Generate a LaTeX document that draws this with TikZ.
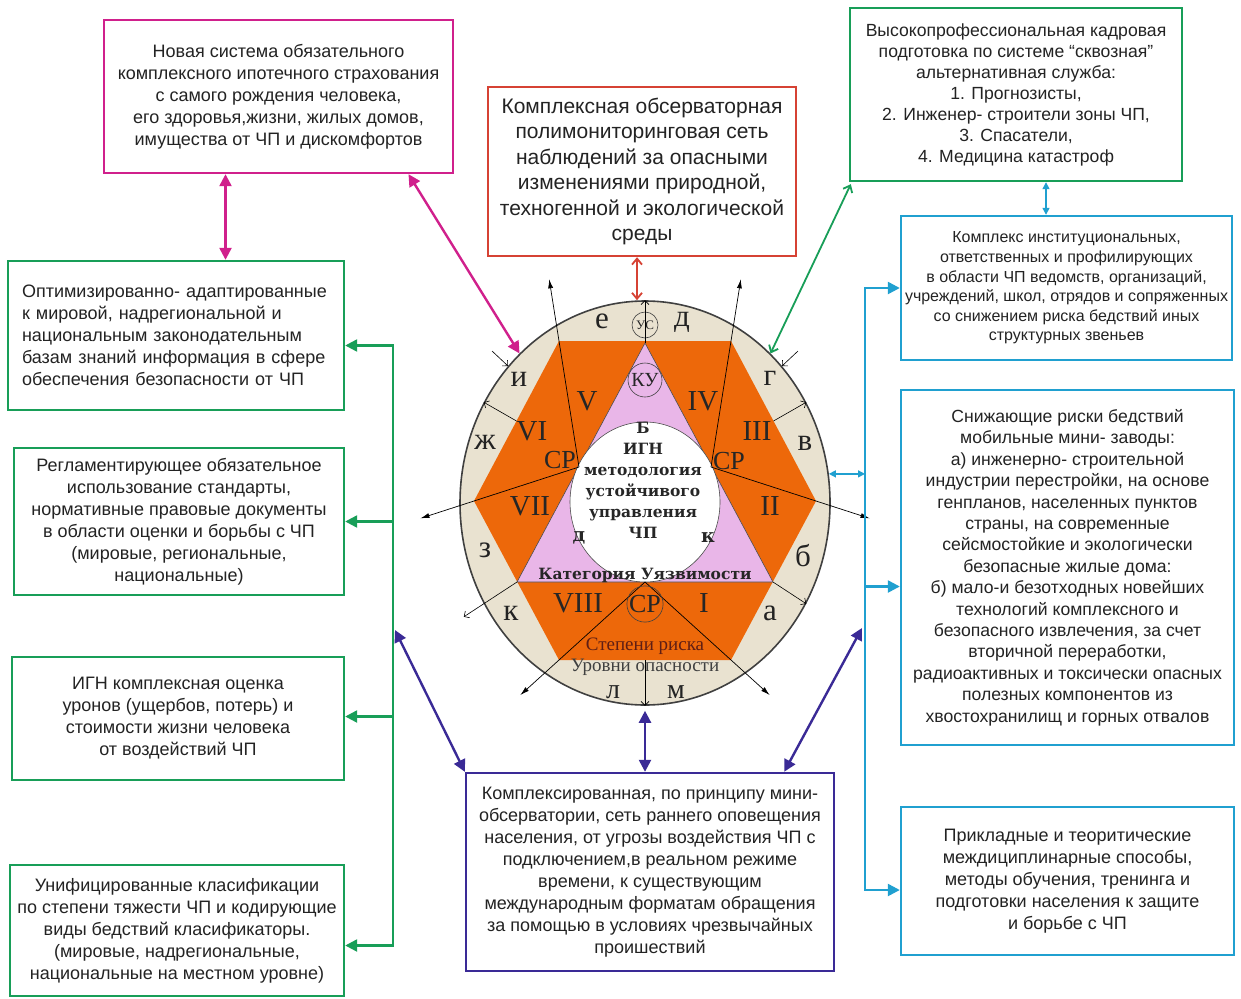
\documentclass[tikz,border=0pt]{standalone}
\usepackage{fontspec}
\setmainfont{Liberation Sans}
\newfontfamily\rmcyr{Liberation Serif}
\newfontfamily\bkcyr{DejaVu Serif}
\usetikzlibrary{arrows.meta,shapes.geometric,calc}
\definecolor{beige}{RGB}{233,226,208}
\definecolor{hexorange}{RGB}{237,104,10}
\definecolor{trpink}{RGB}{233,182,232}
\definecolor{magline}{RGB}{208,32,140}
\definecolor{redline}{RGB}{214,66,52}
\definecolor{grline}{RGB}{24,158,88}
\definecolor{cyline}{RGB}{32,160,208}
\definecolor{puline}{RGB}{58,42,150}
\definecolor{txt}{RGB}{35,35,35}
\definecolor{maroon}{RGB}{95,30,20}

\begin{document}
\begin{tikzpicture}[x=1pt,y=-1pt,
  box/.style={draw, line width=2.4pt, align=center, inner sep=0pt, text=txt, font=\fontsize{18}{22}\selectfont},
  big/.style={-{Triangle[length=12pt,width=12pt]}, line width=2.4pt},
  bigboth/.style={{Triangle[length=12pt,width=12pt]}-{Triangle[length=12pt,width=12pt]}, line width=2.4pt},
  smallboth/.style={{Triangle[length=7pt,width=7pt]}-{Triangle[length=7pt,width=7pt]}, line width=1.4pt},
  barbboth/.style={{Straight Barb[length=6pt,width=10pt]}-{Straight Barb[length=6pt,width=10pt]}, line width=1.8pt},
  ray/.style={-{Latex[length=9pt,width=5pt]}, line width=0.7pt},
  tick/.style={-{Straight Barb[length=4pt,width=8pt]}, line width=0.6pt},
  band/.style={font=\rmcyr\fontsize{31}{31}\selectfont, text=txt, inner sep=0pt},
  roman/.style={font=\rmcyr\fontsize{29}{29}\selectfont, text=black!85, inner sep=0pt},
  bold/.style={font=\bkcyr\bfseries\fontsize{15.5}{21}\selectfont, text=black!85, align=center}
]
\fill[white] (0,0) rectangle (1241,998);
\useasboundingbox (0,0) rectangle (1241,998);

\node[box, draw=magline, minimum width=349pt, minimum height=153pt] (ins) at (278.5,96.5)
  {Новая система обязательного\\комплексного ипотечного страхования\\с самого рождения человека,\\его здоровья,жизни, жилых домов,\\имущества от ЧП и дискомфортов};
\node[box, draw=redline, minimum width=308pt, minimum height=169pt, font=\fontsize{21}{25.5}\selectfont] (obs) at (642,171.5)
  {Комплексная обсерваторная\\полимониторинговая сеть\\наблюдений за опасными\\изменениями природной,\\техногенной и экологической\\среды};
\node[box, draw=grline, minimum width=332pt, minimum height=173pt, font=\fontsize{17.6}{21}\selectfont] (kadr) at (1016,94.5)
  {Высокопрофессиональная кадровая\\подготовка по системе “сквозная”\\альтернативная служба:\\1. Прогнозисты,\\2. Инженер- строители зоны ЧП,\\3. Спасатели,\\4. Медицина катастроф};
\node[box, draw=cyline, minimum width=331pt, minimum height=144pt, font=\fontsize{16}{19.6}\selectfont] (inst) at (1066.5,288)
  {Комплекс институциональных,\\ответственных и профилирующих\\в области ЧП ведомств, организаций,\\учреждений, школ, отрядов и сопряженных\\со снижением риска бедствий иных\\структурных звеньев};
\node[box, draw=cyline, minimum width=333pt, minimum height=355pt, font=\fontsize{17.6}{21.4}\selectfont] (zavod) at (1067.5,567.5)
  {Снижающие риски бедствий\\мобильные мини- заводы:\\а) инженерно- строительной\\индустрии перестройки, на основе\\генпланов, населенных пунктов\\страны, на современные\\сейсмостойкие и экологически\\безопасные жилые дома:\\б) мало-и безотходных новейших\\технологий комплексного и\\безопасного извлечения, за счет\\вторичной переработки,\\радиоактивных и токсически опасных\\полезных компонентов из\\хвостохранилищ и горных отвалов};
\node[box, draw=cyline, minimum width=333pt, minimum height=148pt] (prikl) at (1067.5,881)
  {Прикладные и теоритические\\междициплинарные способы,\\методы обучения, тренинга и\\подготовки населения к защите\\и борьбе с ЧП};
\node[box, draw=grline, minimum width=336pt, minimum height=149pt, align=left, text width=308pt] (opt) at (176,335.5)
  {Оптимизированно- адаптированные\\к мировой, надрегиональной и\\национальным законодательным\\базам знаний информация в сфере\\обеспечения безопасности от ЧП};
\node[box, draw=grline, minimum width=330pt, minimum height=147pt] (regl) at (179,521.5)
  {Регламентирующее обязательное\\использование стандарты,\\нормативные правовые документы\\в области оценки и борьбы с ЧП\\(мировые, региональные,\\национальные)};
\node[box, draw=grline, minimum width=332pt, minimum height=123pt] (ign) at (178,718.5)
  {ИГН комплексная оценка\\уронов (ущербов, потерь) и\\стоимости жизни человека\\от воздействий ЧП};
\node[box, draw=grline, minimum width=334pt, minimum height=131pt] (unif) at (177,930.5)
  {Унифицированные класификации\\по степени тяжести ЧП и кодирующие\\виды бедствий класификаторы.\\(мировые, надрегиональные,\\национальные на местном уровне)};
\node[box, draw=puline, minimum width=368pt, minimum height=198pt] (kompl) at (650,872)
  {Комплексированная, по принципу мини-\\обсерватории, сеть раннего оповещения\\населения, от угрозы воздействия ЧП с\\подключением,в реальном режиме\\времени, к существующим\\международным форматам обращения\\за помощью в условиях чрезвычайных\\проишествий};

\node[ellipse, draw=black!75, line width=1.6pt, fill=beige, minimum width=370pt, minimum height=404pt, inner sep=0pt] (ring) at (645,503) {};
\coordinate (h1) at (559,341);
\coordinate (h2) at (731,341);
\coordinate (h3) at (816,501);
\coordinate (h4) at (731,660);
\coordinate (h5) at (559,660);
\coordinate (h6) at (474,501);
\fill[hexorange] (h1) -- (h2) -- (h3) -- (h4) -- (h5) -- (h6) -- cycle;
\coordinate (apex) at (645,343);
\coordinate (baseL) at (517,582);
\coordinate (baseR) at (773,582);
\draw[fill=trpink, line width=0.6pt, draw=black!70] (apex) -- (baseR) -- (baseL) -- cycle;
\node[ellipse, draw=black!70, line width=0.6pt, fill=white, minimum width=150pt, minimum height=160pt, inner sep=0pt] (core) at (645,502) {};

\coordinate (hubL) at (579,467);
\coordinate (hubR) at (711,467);
\coordinate (hubB) at (645,582);
\coordinate (hexB) at (645,660);
\draw[ray] (hubL) -- ($(hubL)!1.49!(h1)$);
\draw[ray] (hubL) -- ($(hubL)!1.51!(h6)$);
\draw[ray] (hubR) -- ($(hubR)!1.49!(h2)$);
\draw[ray] (hubR) -- ($(hubR)!1.51!(h3)$);
\draw[ray] (hubB) -- ($(hubB)!1.45!(h5)$);
\draw[ray] (hubB) -- ($(hubB)!1.45!(h4)$);

\node[band] (le) at (602,321) {е};
\node[band] (ld) at (682,322) {д};
\node[band] (li) at (519,379) {и};
\node[band] (lg) at (770,378) {г};
\node[band] (lzh) at (485,442) {ж};
\node[band] (lv) at (805,443) {в};
\node[band] (lz) at (485,550) {з};
\node[band] (lb) at (803,556) {б};
\node[band] (lk) at (511,613) {к};
\node[band] (la) at (770,613) {а};
\node[band, font=\rmcyr\fontsize{28}{28}\selectfont] (ll) at (613,692) {л};
\node[band, font=\rmcyr\fontsize{28}{28}\selectfont] (lm) at (676,692) {м};

\node[roman] (r5) at (587,401) {V};
\node[roman] (r4) at (703,401) {IV};
\node[roman] (r6) at (532,431) {VI};
\node[roman] (r3) at (757,431) {III};
\node[roman] (r7) at (530,506) {VII};
\node[roman] (r2) at (770,506) {II};
\node[roman] (r8) at (578,603) {VIII};
\node[roman] (r1) at (704,603) {I};
\node[font=\rmcyr\fontsize{26}{26}\selectfont, text=black!85, inner sep=0pt] (srL) at (560,460) {СР};
\node[font=\rmcyr\fontsize{26}{26}\selectfont, text=black!85, inner sep=0pt] (srR) at (729,461) {СР};
\node[circle, draw=black!75, line width=0.6pt, inner sep=0pt, minimum size=36pt, font=\rmcyr\fontsize{26}{26}\selectfont, text=black!85] (srB) at (645,604) {СР};
\node[circle, draw=black!75, line width=0.6pt, inner sep=0pt, minimum size=34pt, font=\rmcyr\fontsize{20}{20}\selectfont, text=black!85] (ku) at (645,380) {КУ};
\node[circle, draw=black!75, line width=0.6pt, inner sep=0pt, minimum size=26pt, font=\rmcyr\fontsize{13}{13}\selectfont, text=black!85] (us) at (645,325) {УС};

\node[bold] (igh) at (643,480) {Б\\ИГН\\методология\\устойчивого\\управления\\ЧП};
\node[bold, font=\bkcyr\bfseries\fontsize{19}{19}\selectfont] (dd) at (579,538) {д};
\node[bold, font=\bkcyr\bfseries\fontsize{19}{19}\selectfont] (kk) at (708,538) {к};
\node[bold] (kat) at (645,575) {Категория Уязвимости};
\node[font=\rmcyr\fontsize{19}{19}\selectfont, text=maroon, inner sep=0pt] (step) at (645,646) {Степени риска};
\node[font=\rmcyr\fontsize{19}{19}\selectfont, text=black!75, inner sep=0pt] (urov) at (645,667) {Уровни опасности};

\draw[tick] (apex) -- (ring.north);
\draw[tick] (hexB) -- (ring.south);
\draw[tick] ($(h6)!0.5!(h1)$) -- (ring.148);
\draw[tick] ($(h2)!0.5!(h3)$) -- (ring.32);
\draw[tick] (baseL) -- ($(baseL)!1.6!(ring.-148)$);
\draw[tick] (baseR) -- (ring.-32);
\draw[tick] ($(ring.135)+(-16,-15)$) -- (ring.135);
\draw[tick] ($(ring.45)+(16,-15)$) -- (ring.45);

\draw[bigboth, magline] ([xshift=-53pt]ins.south) -- ([xshift=-53pt]ins.south |- opt.north);
\draw[bigboth, magline] ([xshift=130pt]ins.south) -- (ring.130);
\draw[barbboth, redline] ([xshift=-5pt]obs.south) -- ([xshift=-5pt]obs.south |- ring.north);
\draw[barbboth, grline] ([shift={(2pt,-2pt)}]kadr.south west) -- (ring.50);
\draw[smallboth, cyline] ([xshift=30pt]kadr.south) -- ([xshift=30pt]kadr.south |- inst.north);

\coordinate (cyx) at (865,0);
\draw[bigboth, cyline] (inst.west) -- (inst.west -| cyx) -- ([yshift=-9pt]prikl.west -| cyx) -- ([yshift=-9pt]prikl.west);
\draw[big, cyline] ([yshift=-19pt]zavod.west -| cyx) -- ([yshift=-19pt]zavod.west);
\draw[smallboth, cyline] (ring.9) -- (ring.9 -| cyx);

\coordinate (grx) at (393,0);
\draw[bigboth, grline] ([yshift=-10pt]opt.east) -- ([yshift=-10pt]opt.east -| grx) -- ([yshift=-15pt]unif.east -| grx) -- ([yshift=-15pt]unif.east);
\draw[big, grline] (regl.east -| grx) -- (regl.east);
\draw[big, grline] ([yshift=2pt]ign.east -| grx) -- ([yshift=2pt]ign.east);

\coordinate (puL) at (395,630);
\coordinate (puR) at (862,628);
\draw[bigboth, puline] (puL) -- (kompl.north west);
\draw[bigboth, puline] ([yshift=-5pt]ring.south) -- (ring.south |- kompl.north);
\draw[bigboth, puline] (puR) -- ([xshift=-51pt]kompl.north east);
\end{tikzpicture}
\end{document}
